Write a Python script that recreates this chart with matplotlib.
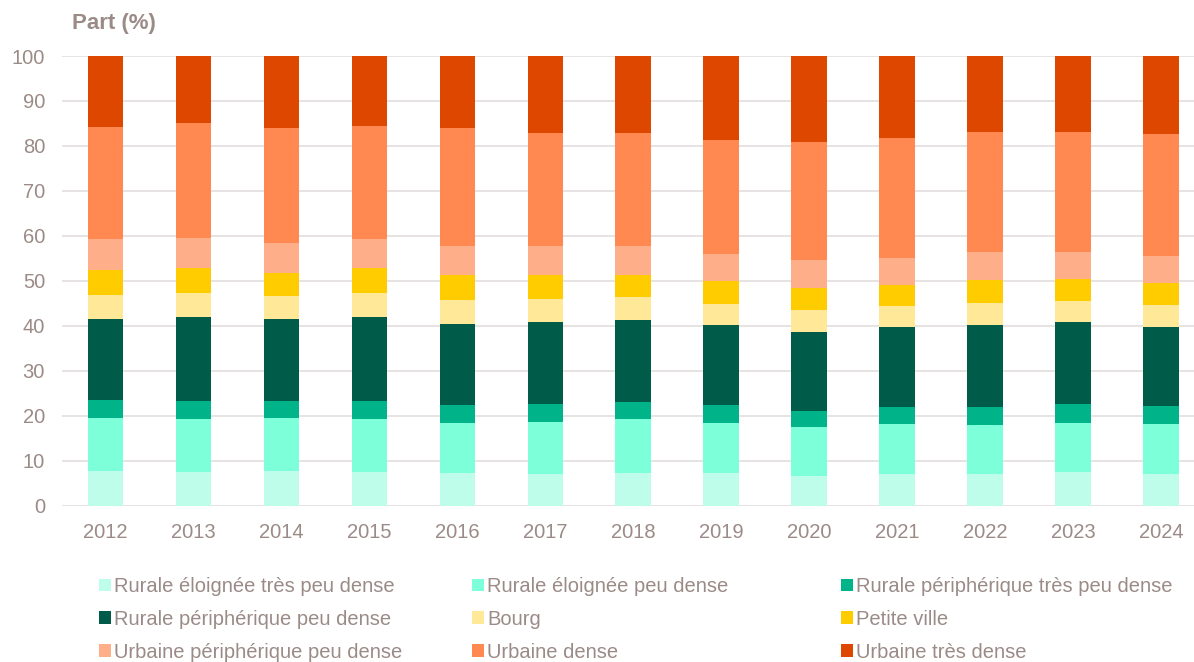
import numpy as np
import matplotlib.pyplot as plt

plt.rcParams['font.family'] = ['Liberation Sans', 'DejaVu Sans']

years = ['2012', '2013', '2014', '2015', '2016', '2017', '2018',
         '2019', '2020', '2021', '2022', '2023', '2024']

categories = ['Rurale éloignée très peu dense', 'Rurale éloignée peu dense',
              'Rurale périphérique très peu dense', 'Rurale périphérique peu dense',
              'Bourg', 'Petite ville', 'Urbaine périphérique peu dense',
              'Urbaine dense', 'Urbaine très dense']

# part (%) par catégorie, une valeur par année
rural_elo_tpd = [7.7, 7.5, 7.7, 7.5, 7.3, 7.0, 7.3, 7.3, 6.6, 7.0, 7.1, 7.4, 7.0]
rural_elo_pd = [11.7, 11.7, 11.9, 11.7, 11.2, 11.7, 11.9, 11.1, 10.8, 11.1, 10.8, 11.1, 11.2]
rural_per_tpd = [4.0, 4.1, 3.7, 4.0, 3.9, 3.9, 3.9, 3.9, 3.6, 3.9, 4.0, 4.1, 4.0]
rural_per_pd = [18.2, 18.7, 18.2, 18.7, 17.9, 18.2, 18.2, 17.9, 17.7, 17.8, 18.2, 18.2, 17.6]
bourg = [5.3, 5.3, 5.2, 5.4, 5.5, 5.2, 5.1, 4.7, 4.9, 4.7, 5.0, 4.8, 4.9]
petite_ville = [5.6, 5.5, 5.1, 5.5, 5.5, 5.3, 5.0, 5.1, 4.9, 4.5, 5.1, 4.8, 4.8]
urb_per_pd = [6.7, 6.8, 6.7, 6.4, 6.5, 6.5, 6.3, 6.0, 6.2, 6.1, 6.3, 6.1, 6.0]
urb_dense = [25.1, 25.4, 25.6, 25.3, 26.1, 25.0, 25.1, 25.4, 26.2, 26.7, 26.5, 26.7, 27.2]
urb_tres_dense = [15.7, 15.0, 15.9, 15.5, 16.1, 17.2, 17.2, 18.6, 19.1, 18.2, 17.0, 16.8, 17.3]

series = [rural_elo_tpd, rural_elo_pd, rural_per_tpd, rural_per_pd, bourg,
          petite_ville, urb_per_pd, urb_dense, urb_tres_dense]
colors = ['#bdfde9', '#7dffda', '#00b388', '#005c48', '#ffe999',
          '#ffcc00', '#ffae8a', '#ff8950', '#de4700']

txt = '#9b8b86'

fig = plt.figure(figsize=(11.94, 6.62), dpi=100)
ax = fig.add_axes([62/1194, 1 - 505.7/662, 1 - 62/1194, (505.7 - 56)/662])

x = np.arange(len(years))
bottom = np.zeros(len(years))
handles = []
for vals, col, lab in zip(series, colors, categories):
    b = ax.bar(x, vals, 0.405, bottom=bottom, color=col, label=lab, zorder=3)
    handles.append(b)
    bottom += np.array(vals)

ax.set_ylim(0, 100)
ax.set_xlim(-0.495, 12.375)
ax.set_yticks(np.arange(0, 101, 10))
ax.set_xticks(x)
ax.set_xticklabels(years)
ax.grid(axis='y', color='#e6e0e0', linewidth=1.3, zorder=0)
for s in ax.spines.values():
    s.set_visible(False)
ax.tick_params(length=0, labelsize=14.5, colors=txt)
ax.tick_params(axis='y', pad=12.2)
ax.tick_params(axis='x', pad=12.5)

fig.text(72/1194, 1 - 24/662, 'Part (%)', fontsize=16, fontweight='bold',
         color=txt, va='center', ha='left')

# légende sur trois colonnes, remplie ligne par ligne
col_x = [99/1194, 472/1194, 841/1194]
for c in range(3):
    leg = fig.legend(handles[c::3], categories[c::3], loc='upper left',
                     bbox_to_anchor=(col_x[c], 1 - 577/662), frameon=False,
                     fontsize=14.5, handlelength=0.6, handleheight=0.6,
                     handletextpad=0.15, labelspacing=0.69, borderaxespad=0,
                     borderpad=0)
    for t in leg.get_texts():
        t.set_color(txt)

fig.savefig('out.png', dpi=100)
